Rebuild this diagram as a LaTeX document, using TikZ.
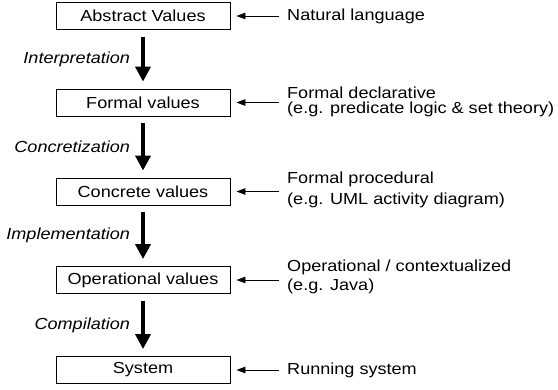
\documentclass[tikz,border=0pt]{standalone}
\usepackage{fontspec}
\setmainfont{Liberation Sans}[FakeStretch=1.13]
\usetikzlibrary{arrows.meta}
\tikzset{
  valbox/.style={draw, line width=0.9pt, minimum width=174pt, minimum height=27pt, inner sep=0pt, font=\fontsize{16}{19}\selectfont},
  bigarrow/.style={line width=4pt, -{Triangle[length=15pt,width=15pt]}, shorten <=7pt, shorten >=7pt},
  steplabel/.style={left=11pt, inner sep=0pt, font=\fontsize{16}{19}\selectfont\itshape},
  sidetext/.style={anchor=west, inner sep=0pt, align=left},
  sidearrow/.style={line width=0.9pt, -{Triangle[length=9pt,width=6.5pt]}, shorten >=6pt}
}
\begin{document}
\begin{tikzpicture}[x=1pt,y=-1pt]
\useasboundingbox (0,0) rectangle (558,389);
\node[valbox] (abs) at (143,16) {Abstract Values};
\node[valbox] (form) at (143,102.5) {Formal values};
\node[valbox] (conc) at (143,191.5) {Concrete values};
\node[valbox] (oper) at (143,280) {Operational values};
\node[valbox] (sys) at (143,370) {System};

\draw[bigarrow] (abs.south) -- node[steplabel] (l1) {Interpretation} (form.north);
\draw[bigarrow] (form.south) -- node[steplabel] (l2) {Concretization} (conc.north);
\draw[bigarrow] (conc.south) -- node[steplabel] (l3) {Implementation} (oper.north);
\draw[bigarrow] (oper.south) -- node[steplabel] (l4) {Compilation} (sys.north);

\node[sidetext, font=\fontsize{16}{19}\selectfont] (t1) at (287,16) {Natural language};
\node[sidetext, font=\fontsize{16}{15}\selectfont] (t2) at (287,102) {Formal declarative\\(e.g. predicate logic \& set theory)};
\node[sidetext, font=\fontsize{16}{21}\selectfont] (t3) at (287,190) {Formal procedural\\(e.g. UML activity diagram)};
\node[sidetext, font=\fontsize{16}{19}\selectfont] (t4) at (287,277) {Operational / contextualized\\(e.g. Java)};
\node[sidetext, font=\fontsize{16}{19}\selectfont] (t5) at (287,370) {Running system};

\draw[sidearrow] ([xshift=-8pt]t1.west |- abs.east) -- (abs.east);
\draw[sidearrow] ([xshift=-8pt]t2.west |- form.east) -- (form.east);
\draw[sidearrow] ([xshift=-8pt]t3.west |- conc.east) -- (conc.east);
\draw[sidearrow] ([xshift=-8pt]t4.west |- oper.east) -- (oper.east);
\draw[sidearrow] ([xshift=-8pt]t5.west |- sys.east) -- (sys.east);
\end{tikzpicture}
\end{document}
